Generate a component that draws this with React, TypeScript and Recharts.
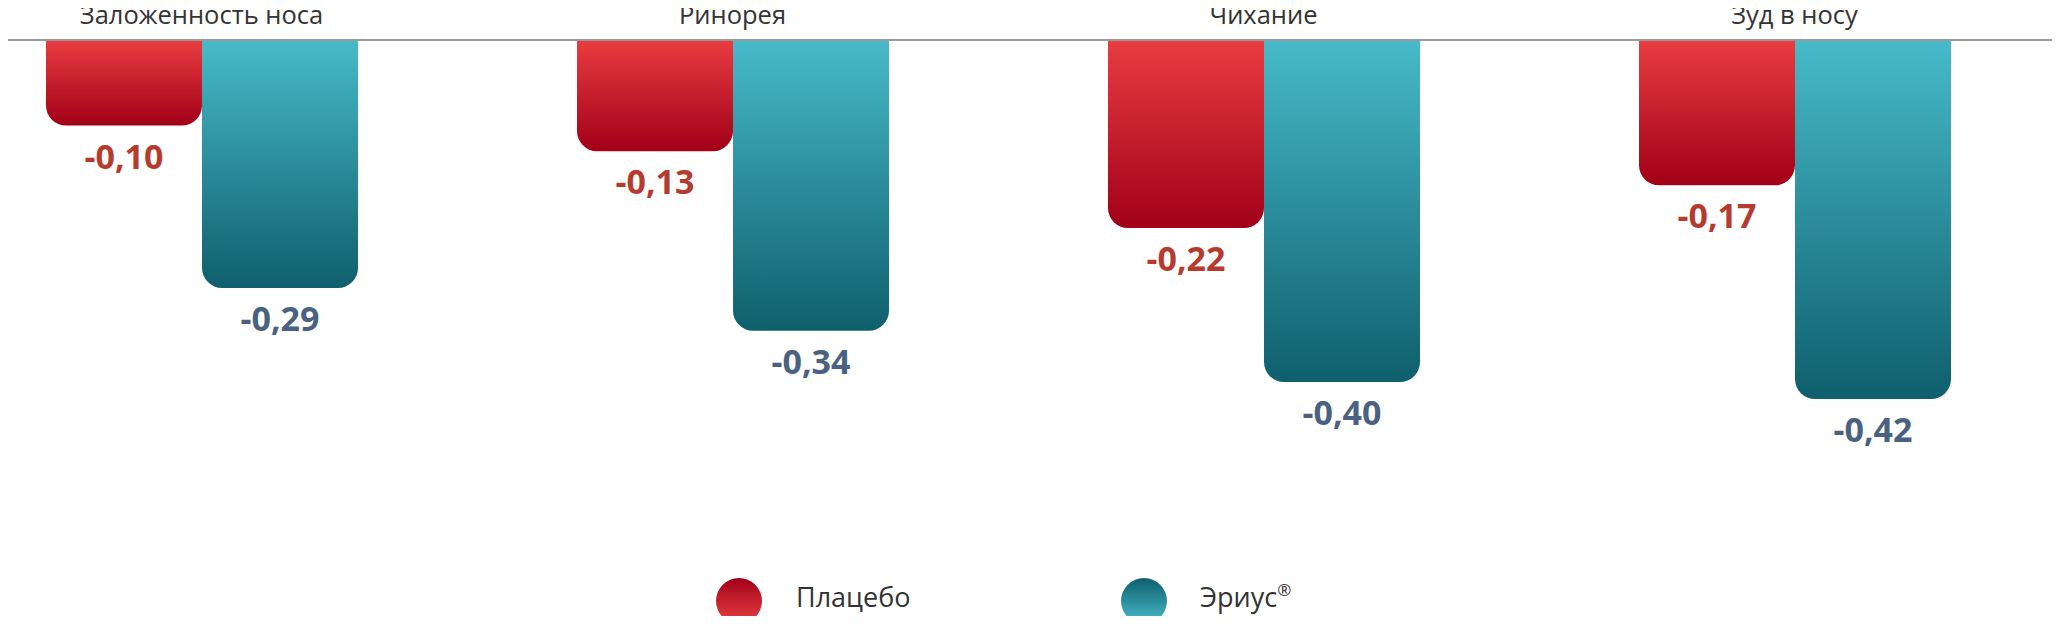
import { Bar, BarChart, LabelList, XAxis, YAxis } from 'recharts'

const categories = ['Заложенность носа', 'Ринорея', 'Чихание', 'Зуд в носу']
const placebo = [-0.1, -0.13, -0.22, -0.17]
const erius = [-0.29, -0.34, -0.4, -0.42]

const data = categories.map((name, i) => ({ name, placebo: placebo[i], erius: erius[i] }))

const fmt = (v: number) => Number(v).toFixed(2).replace('.', ',')

const font = '"Open Sans", sans-serif'

const makeLabel = (color: string) => (props: any) => {
  const x = Number(props.x)
  const y = Number(props.y)
  const w = Number(props.width)
  const h = Number(props.height)
  const bottom = Math.max(y, y + h)
  return (
    <text
      x={x + w / 2}
      y={bottom + 43}
      textAnchor="middle"
      fill={color}
      fontSize={34}
      fontWeight={700}
      fontFamily={font}
    >
      {fmt(props.value)}
    </text>
  )
}

const CategoryTick = (props: any) => (
  <text x={props.x} y={24} textAnchor="middle" fill="#333" fontSize={25.5} fontFamily={font}>
    {props.payload.value}
  </text>
)

export default function App() {
  return (
    <div
      style={{
        position: 'relative',
        width: 2060,
        height: 624,
        margin: -8,
        overflow: 'hidden',
        background: '#fff',
      }}
    >
      <div style={{ position: 'absolute', left: -64, top: 0 }}>
        <BarChart
          width={2124}
          height={624}
          data={data}
          margin={{ top: 0, right: 0, bottom: 71, left: 0 }}
          barGap={0}
          barCategoryGap={110}
        >
          <defs>
            <linearGradient id="redBar" x1="0" y1="0" x2="0" y2="1">
              <stop offset="0%" stopColor="#e93c41" />
              <stop offset="100%" stopColor="#a10018" />
            </linearGradient>
            <linearGradient id="tealBar" x1="0" y1="0" x2="0" y2="1">
              <stop offset="0%" stopColor="#47bac9" />
              <stop offset="100%" stopColor="#0f5f6d" />
            </linearGradient>
          </defs>
          <XAxis
            dataKey="name"
            orientation="top"
            height={40}
            interval={0}
            tickLine={false}
            axisLine={{ stroke: '#9a9a9a', strokeWidth: 2 }}
            tick={CategoryTick}
          />
          <YAxis hide domain={[-0.6, 0]} />
          <Bar dataKey="placebo" fill="url(#redBar)" radius={[20, 20, 0, 0]} isAnimationActive={false}>
            <LabelList dataKey="placebo" content={makeLabel('#b63b2f')} />
          </Bar>
          <Bar dataKey="erius" fill="url(#tealBar)" radius={[20, 20, 0, 0]} isAnimationActive={false}>
            <LabelList dataKey="erius" content={makeLabel('#4a6282')} />
          </Bar>
        </BarChart>
      </div>
      <svg width={2060} height={624} style={{ position: 'absolute', left: 0, top: 0, pointerEvents: 'none' }}>
        <defs>
          <linearGradient id="redDot" x1="0" y1="0" x2="0" y2="1">
            <stop offset="0%" stopColor="#a1001a" />
            <stop offset="100%" stopColor="#e8403f" />
          </linearGradient>
          <linearGradient id="tealDot" x1="0" y1="0" x2="0" y2="1">
            <stop offset="0%" stopColor="#0f5f6d" />
            <stop offset="100%" stopColor="#4abccb" />
          </linearGradient>
        </defs>
        <circle cx={739} cy={601} r={23} fill="url(#redDot)" />
        <text x={796} y={607} fill="#333" fontSize={27} fontFamily={font}>
          Плацебо
        </text>
        <circle cx={1144} cy={601} r={23} fill="url(#tealDot)" />
        <text x={1200} y={607} fill="#333" fontSize={27} fontFamily={font}>
          Эриус<tspan fontSize={17} dy={-11}>®</tspan>
        </text>
      </svg>
    </div>
  )
}
